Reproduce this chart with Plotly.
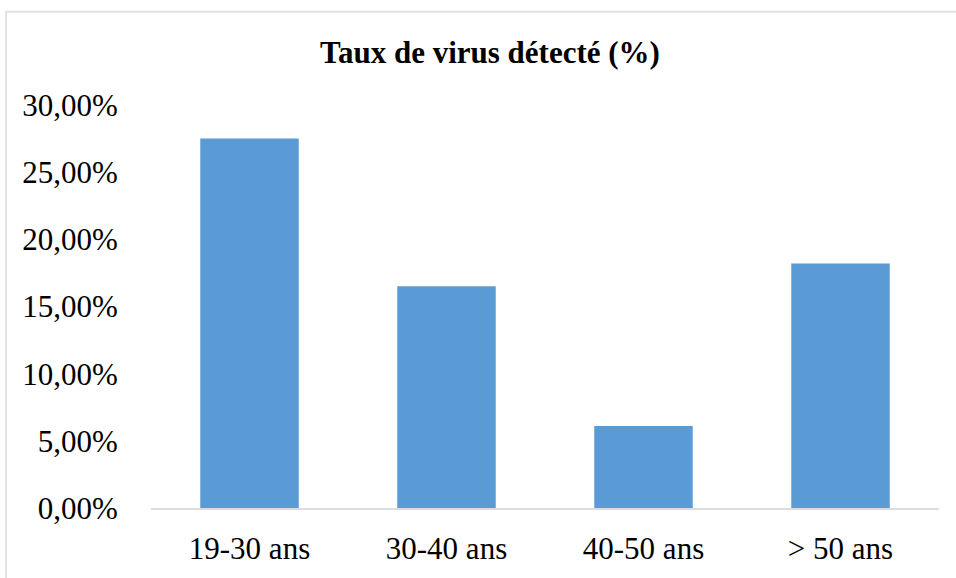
import plotly.graph_objects as go

categories = ["19-30 ans", "30-40 ans", "40-50 ans", "> 50 ans"]
values = [27.5, 16.5, 6.1, 18.2]
tick_vals = [0, 5, 10, 15, 20, 25, 30]
tick_text = ["0,00%", "5,00%", "10,00%", "15,00%", "20,00%", "25,00%", "30,00%"]
title_text = "<b>Taux de virus détecté (%)</b>"

W, H = 956, 578
L, R, T, B = 151, 17, 105, 65
pw, ph = W - L - R, H - T - B

fig = go.Figure(go.Bar(
    x=categories, y=values,
    marker=dict(color="#5b9bd5", line=dict(width=0)),
    hoverinfo="skip",
))

def px_x(p):
    return (p - L) / pw

def px_y(p):
    return (H - B - p) / ph

fig.update_layout(
    width=W, height=H,
    margin=dict(l=L, r=R, t=T, b=B),
    paper_bgcolor="white", plot_bgcolor="white",
    bargap=0.5,
    showlegend=False,
    font=dict(family="Liberation Serif", color="#000000"),
    title=dict(text=title_text, x=490 / W, xref="container", xanchor="center",
               y=1 - 52 / H, yref="container", yanchor="middle",
               font=dict(family="Liberation Serif", size=31, color="#000000")),
    xaxis=dict(showgrid=False, showline=True, linecolor="#d9dde3", linewidth=2,
               ticks="outside", ticklen=12, tickcolor="rgba(0,0,0,0)",
               tickfont=dict(size=31), zeroline=False, fixedrange=True),
    yaxis=dict(range=[0, 30], tickvals=tick_vals, ticktext=tick_text,
               showgrid=False, showline=False, zeroline=False,
               ticks="outside", ticklen=26, tickcolor="rgba(0,0,0,0)",
               tickfont=dict(size=31), fixedrange=True),
    shapes=[dict(type="rect", xref="paper", yref="paper",
                 x0=px_x(6), x1=px_x(1000), y0=px_y(620), y1=px_y(10.5),
                 line=dict(color="#dfe3e9", width=2), fillcolor="rgba(0,0,0,0)",
                 layer="below")],
)

fig.write_html("out.html", config={"displayModeBar": False},
               post_script="document.body.style.margin='0';document.body.style.padding='0';")
